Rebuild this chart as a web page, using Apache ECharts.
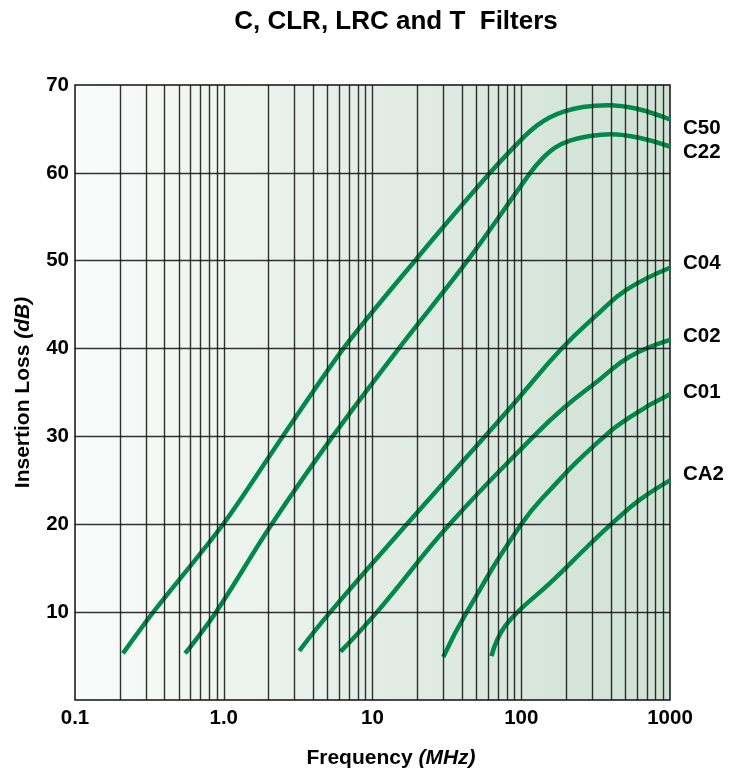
<!DOCTYPE html>
<html>
<head>
<meta charset="utf-8">
<script src="https://cdn.jsdelivr.net/npm/echarts@6/dist/echarts.min.js"></script>
<style>
  html, body { margin: 0; padding: 0; background: #fff; }
  #chart { width: 741px; height: 780px; }
</style>
</head>
<body>
<div id="chart"></div>
<script>
// frequency in MHz, insertion loss in dB
const c50Freq = [0.21, 0.336, 0.99, 2.49, 6.37, 19.3, 61.7, 106, 128, 155, 195, 260, 380, 600, 1000];
const c50Loss = [5.3, 10, 20, 30, 40, 50, 60, 64.2, 65.4, 66.3, 67.0, 67.5, 67.7, 67.3, 66.1];

const c22Freq = [0.55, 0.887, 2.1, 5.4, 15, 43.5, 115, 138, 170, 215, 290, 400, 620, 1000];
const c22Loss = [5.3, 10, 20, 30, 40, 50, 60, 61.6, 62.9, 63.7, 64.2, 64.4, 64.0, 63.0];

const c04Freq = [3.22, 5.2, 17, 57, 93, 187, 321, 511, 1000];
const c04Loss = [5.6, 10, 20, 30, 34.1, 40, 43.8, 46.7, 49.2];

const c02Freq = [6.1, 10.7, 33, 121, 192, 321, 538, 1000];
const c02Loss = [5.5, 10, 20, 30, 33.2, 36.2, 39.1, 41.0];

const c01Freq = [29.9, 43, 100, 156, 321, 538, 1000];
const c01Loss = [4.9, 10, 20, 23.9, 29.2, 32.2, 34.8];

const ca2Freq = [63, 68.7, 77.8, 95.5, 156, 280, 420, 628, 1000];
const ca2Loss = [5.0, 6.8, 8.4, 10.1, 13.3, 17.5, 20.3, 22.8, 25.0];

const xTickLabels = ['0.1', '1.0', '10', '100', '1000'];
const gridFreqs = [0.2, 0.3, 0.4, 0.5, 0.6, 0.7, 0.8, 0.9, 1,
  2, 3, 4, 5, 6, 7, 8, 9, 10,
  20, 30, 40, 50, 60, 70, 80, 90, 100,
  200, 300, 400, 500, 600, 700, 800, 900];
const gridLoss = [10, 20, 30, 40, 50, 60];

const FONT = '"Liberation Sans", Arial, Helvetica, sans-serif';
const GREEN = '#00894a';

function pairs(fx, ly) {
  return fx.map((f, i) => [f, ly[i]]);
}

function curve(name, fx, ly, dy, smooth) {
  return {
    name: name,
    type: 'line',
    data: pairs(fx, ly),
    smooth: smooth,
    showSymbol: false,
    z: 2,
    lineStyle: { color: GREEN, width: 4.5, cap: 'butt' },
    endLabel: {
      show: true,
      formatter: name,
      offset: [5, dy],
      color: '#000',
      fontFamily: FONT,
      fontWeight: 'bold',
      fontSize: 20.5
    }
  };
}

const chart = echarts.init(document.getElementById('chart'));

chart.setOption({
  backgroundColor: '#fff',
  animation: false,
  graphic: [
    {
      type: 'text',
      x: 396,
      y: 22,
      style: {
        text: 'C, CLR, LRC and T  Filters',
        fontFamily: FONT,
        fontWeight: 'bold',
        fontSize: 26,
        fill: '#000',
        textAlign: 'center',
        textVerticalAlign: 'middle'
      }
    }
  ],
  grid: {
    show: true,
    left: 75,
    right: 71,
    top: 85,
    bottom: 80,
    borderColor: '#111',
    borderWidth: 1.5,
    backgroundColor: new echarts.graphic.LinearGradient(0, 0, 1, 0, [
      { offset: 0, color: '#fafcfb' },
      { offset: 0.5, color: '#e3ede6' },
      { offset: 1, color: '#cfe1d4' }
    ])
  },
  xAxis: {
    type: 'log',
    logBase: 10,
    min: 0.1,
    max: 1000,
    name: '{n|Frequency }{i|(MHz)}',
    nameLocation: 'middle',
    nameGap: 48,
    nameTextStyle: {
      verticalAlign: 'top',
      padding: [0, 0, 0, 37],
      rich: {
        n: { fontFamily: FONT, fontWeight: 'bold', fontSize: 21, color: '#000' },
        i: { fontFamily: FONT, fontWeight: 'bold', fontStyle: 'italic', fontSize: 21, color: '#000' }
      }
    },
    axisLine: { show: false },
    axisTick: { show: false },
    splitLine: { show: false },
    axisLabel: {
      margin: 8,
      fontFamily: FONT,
      fontWeight: 'bold',
      fontSize: 20.5,
      color: '#000',
      formatter: v => xTickLabels[Math.round(Math.log10(v)) + 1] || ''
    }
  },
  yAxis: {
    type: 'value',
    min: 0,
    max: 70,
    interval: 10,
    name: '{n|Insertion Loss }{i|(dB)}',
    nameLocation: 'middle',
    nameGap: 41,
    nameTextStyle: {
      rich: {
        n: { fontFamily: FONT, fontWeight: 'bold', fontSize: 21, color: '#000' },
        i: { fontFamily: FONT, fontWeight: 'bold', fontStyle: 'italic', fontSize: 21, color: '#000' }
      }
    },
    axisLine: { show: false },
    axisTick: { show: false },
    splitLine: { show: false },
    axisLabel: {
      margin: 6,
      fontFamily: FONT,
      fontWeight: 'bold',
      fontSize: 20.5,
      color: '#000',
      formatter: v => (v === 0 ? '' : String(v))
    }
  },
  series: [
    curve('C50', c50Freq, c50Loss, 9, 0.3),
    curve('C22', c22Freq, c22Loss, 6, 0.35),
    curve('C04', c04Freq, c04Loss, -4, 0.45),
    curve('C02', c02Freq, c02Loss, -3, 0.45),
    curve('C01', c01Freq, c01Loss, -2, 0.5),
    curve('CA2', ca2Freq, ca2Loss, -6, 0.45),
    {
      // grid lines drawn over the curves, like the original
      name: 'grid',
      type: 'line',
      data: [],
      markLine: {
        silent: true,
        symbol: 'none',
        label: { show: false },
        lineStyle: { color: 'rgba(15,15,15,0.85)', width: 1.4, type: 'solid' },
        data: gridFreqs.map(f => ({ xAxis: f })).concat(gridLoss.map(v => ({ yAxis: v })))
      }
    }
  ]
});
</script>
</body>
</html>
